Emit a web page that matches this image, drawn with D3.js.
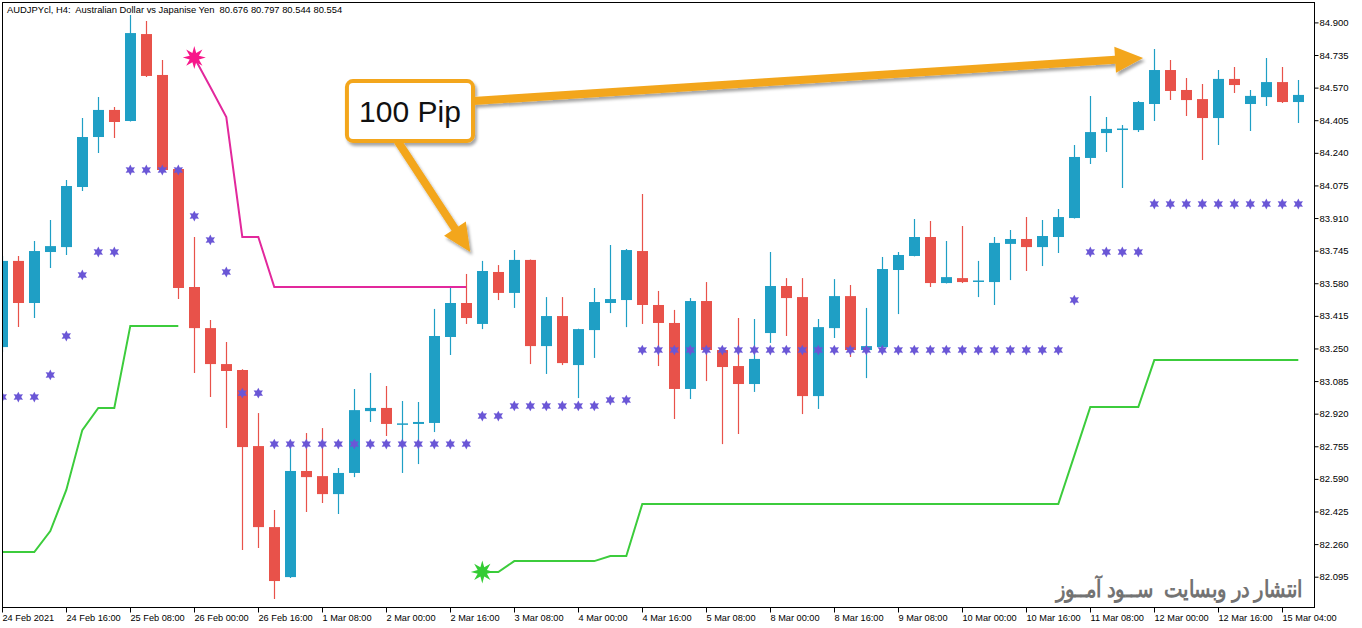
<!DOCTYPE html>
<html>
<head>
<meta charset="utf-8">
<script src="https://cdn.jsdelivr.net/npm/d3@7"></script>
<style>
  body { margin: 0; background: #fff; }
  text { font-family: "Liberation Sans", Arial, sans-serif; }
</style>
</head>
<body>
<div id="chart"></div>
<script>
// AUDJPY H4 candles (index 0 = 24 Feb 2021 00:00)
const opens = [83.257,83.693,83.480,83.738,83.763,84.067,84.320,84.457,84.401,84.841,84.634,84.158,83.561,83.353,83.171,83.141,82.756,82.346,82.093,82.630,82.604,82.513,82.620,82.933,82.949,82.866,82.868,82.873,83.308,83.480,83.374,83.637,83.531,83.698,83.262,83.414,83.166,83.343,83.480,83.495,83.743,83.470,83.379,83.045,83.490,83.242,83.161,83.070,83.328,83.566,83.510,83.009,83.353,83.515,83.242,83.257,83.647,83.718,83.814,83.581,83.606,83.589,83.586,83.779,83.804,83.763,83.814,83.910,84.214,84.340,84.358,84.355,84.487,84.659,84.558,84.512,84.416,84.614,84.487,84.522,84.598,84.497];
const highs = [83.718,83.718,83.794,83.900,84.102,84.416,84.522,84.472,84.937,84.907,84.710,84.160,83.814,83.394,83.283,83.145,82.923,82.432,82.771,82.822,82.847,82.645,83.045,83.126,83.060,82.984,82.979,83.450,83.556,83.627,83.693,83.672,83.748,83.700,83.510,83.510,83.350,83.556,83.773,83.753,84.032,83.541,83.445,83.505,83.586,83.245,83.404,83.399,83.738,83.606,83.606,83.399,83.601,83.571,83.455,83.713,83.738,83.905,83.895,83.794,83.870,83.693,83.814,83.849,83.915,83.900,83.956,84.280,84.528,84.421,84.381,84.502,84.765,84.710,84.619,84.588,84.659,84.674,84.558,84.720,84.674,84.608];
const lows = [83.232,83.358,83.404,83.657,83.723,84.047,84.239,84.315,84.398,84.624,84.148,83.500,83.126,83.004,82.847,82.230,82.240,81.982,82.088,82.422,82.468,82.412,82.599,82.878,82.807,82.620,82.665,82.827,83.217,83.374,83.348,83.495,83.455,83.171,83.121,83.166,82.999,83.202,83.429,83.358,83.374,83.161,82.893,82.994,83.085,82.766,82.817,83.030,83.278,83.313,82.918,82.944,83.303,83.207,83.100,83.255,83.424,83.716,83.561,83.579,83.581,83.510,83.470,83.596,83.642,83.667,83.733,83.908,84.183,84.244,84.062,84.345,84.401,84.507,84.426,84.204,84.280,84.543,84.350,84.477,84.492,84.391];
const closes = [83.693,83.480,83.743,83.768,84.072,84.320,84.457,84.396,84.846,84.629,84.153,83.556,83.353,83.171,83.136,82.751,82.346,82.073,82.630,82.599,82.513,82.620,82.938,82.949,82.868,82.871,82.878,83.313,83.480,83.404,83.642,83.531,83.698,83.262,83.414,83.176,83.348,83.485,83.500,83.748,83.470,83.379,83.045,83.490,83.242,83.156,83.070,83.197,83.566,83.505,83.009,83.358,83.515,83.242,83.262,83.652,83.723,83.814,83.581,83.611,83.586,83.594,83.784,83.804,83.763,83.819,83.915,84.219,84.345,84.361,84.363,84.497,84.659,84.553,84.507,84.416,84.614,84.583,84.528,84.598,84.497,84.533];

// purple star levels, one per candle
const starLevels = [83.004,83.004,83.004,83.116,83.313,83.622,83.738,83.738,84.153,84.153,84.153,84.153,83.920,83.799,83.637,83.024,83.024,
  82.766,82.766,82.766,82.766,82.766,82.766,82.766,82.766,82.766,82.766,82.766,82.766,82.766,
  82.908,82.908,82.959,82.959,82.959,82.959,82.959,82.959,82.989,82.989,
  83.242,83.242,83.242,83.242,83.242,83.242,83.242,83.242,83.242,83.242,83.242,83.242,83.242,83.242,83.242,83.242,83.242,83.242,83.242,83.242,83.242,83.242,83.242,83.242,83.242,83.242,83.242,
  83.495,83.738,83.738,83.738,83.738,
  83.981,83.981,83.981,83.981,83.981,83.981,83.981,83.981,83.981,83.981];

// magenta trailing line (starts at candle 12)
const resistStart = 12;
const resistLine = [84.722,84.573,84.421,83.814,83.814,83.561,83.561,83.561,83.561,83.561,83.561,83.561,83.561,83.561,83.561,83.561,83.561,83.561];

// green trailing lines
const supportAStart = 0;
const supportA = [82.220,82.220,82.220,82.326,82.534,82.837,82.949,82.949,83.364,83.364,83.364,83.364];
const supportBStart = 30;
const supportB = [82.119,82.119,82.174,82.174,82.174,82.174,82.174,82.174,82.200,82.200,
  82.463,82.463,82.463,82.463,82.463,82.463,82.463,82.463,82.463,82.463,82.463,82.463,82.463,82.463,82.463,82.463,82.463,82.463,82.463,82.463,82.463,82.463,82.463,82.463,82.463,82.463,82.463,
  82.708,82.954,82.954,82.954,82.954,
  83.191,83.191,83.191,83.191,83.191,83.191,83.191,83.191,83.191,83.191];

const priceTicks = [82.095,82.260,82.425,82.590,82.755,82.920,83.085,83.250,83.415,83.580,83.745,83.910,84.075,84.240,84.405,84.570,84.735,84.900];
const dateIdx = [0,4,8,12,16,20,24,28,32,36,40,44,48,52,56,60,64,68,72,76,80];
const dateLabels = ["24 Feb 2021","24 Feb 16:00","25 Feb 08:00","26 Feb 00:00","26 Feb 16:00","1 Mar 08:00","2 Mar 00:00","2 Mar 16:00","3 Mar 08:00","4 Mar 00:00","4 Mar 16:00","5 Mar 08:00","8 Mar 00:00","8 Mar 16:00","9 Mar 08:00","10 Mar 00:00","10 Mar 16:00","11 Mar 08:00","12 Mar 00:00","12 Mar 16:00","15 Mar 04:00"];

// callout, in candle index / price units
const callout = { i0: 21.54, i1: 29.42, top: 84.603, bottom: 84.300, label: "100 Pip" };
const arrows = [
  { i0: 29.42, p0: 84.502, i1: 71.3, p1: 84.720 },
  { i0: 24.7, p0: 84.300, i1: 29.25, p1: 83.738 }
];

const title = "AUDJPYcl, H4:  Australian Dollar vs Japanise Yen  80.676 80.797 80.544 80.554";
const watermark = "انتشار در وبسایت  ســود آمــوز";

const W = 1362, H = 628;
const frame = { left: 2.5, top: 2.5, right: 1314.5, bottom: 607.5 };

const svg = d3.select("#chart").append("svg").attr("width", W).attr("height", H);

const x = d3.scaleLinear().domain([0, 81]).range([2.3, 1298.3]);
const y = d3.scaleLinear().domain([82.095, 84.900]).range([576.7, 22.4]);

const defs = svg.append("defs");
defs.append("clipPath").attr("id", "plotclip").append("rect")
  .attr("x", frame.left).attr("y", frame.top)
  .attr("width", frame.right - frame.left).attr("height", frame.bottom - frame.top);
defs.append("filter").attr("id", "shadow").attr("x", "-20%").attr("y", "-20%").attr("width", "140%").attr("height", "160%")
  .append("feDropShadow").attr("dx", 2).attr("dy", 3).attr("stdDeviation", 1.8)
  .attr("flood-color", "#000").attr("flood-opacity", 0.35);

const candles = opens.map((o, i) => ({ i, o, h: highs[i], l: lows[i], c: closes[i] }));
const upCol = "#1f9fc5", downCol = "#e8524a";

const plot = svg.append("g").attr("clip-path", "url(#plotclip)");

// wicks
plot.selectAll("line.wick").data(candles).join("line")
  .attr("class", "wick")
  .attr("x1", d => Math.round(x(d.i)) + 0.5).attr("x2", d => Math.round(x(d.i)) + 0.5)
  .attr("y1", d => y(d.h)).attr("y2", d => y(d.l))
  .attr("stroke", d => d.c >= d.o ? upCol : downCol).attr("stroke-width", 1.2);

// bodies
const bodyW = 11;
plot.selectAll("rect.body").data(candles).join("rect")
  .attr("class", "body")
  .attr("x", d => Math.round(x(d.i)) + 0.5 - bodyW / 2)
  .attr("width", bodyW)
  .attr("y", d => y(Math.max(d.o, d.c)))
  .attr("height", d => Math.max(1.5, Math.abs(y(d.o) - y(d.c))))
  .attr("fill", d => d.c >= d.o ? upCol : downCol);

// trailing lines
const line = d3.line().x(d => x(d[0])).y(d => y(d[1]));
function series(start, vals) { return vals.map((v, k) => [start + k, v]); }
plot.append("path").datum(series(resistStart, resistLine))
  .attr("d", line).attr("fill", "none").attr("stroke", "#e2289c").attr("stroke-width", 2);
[series(supportAStart, supportA), series(supportBStart, supportB)].forEach(s => {
  plot.append("path").datum(s)
    .attr("d", line).attr("fill", "none").attr("stroke", "#3ccc3c").attr("stroke-width", 2);
});

// star shapes
function starPath(points, rOut, rIn) {
  const pts = [];
  for (let k = 0; k < points * 2; k++) {
    const r = k % 2 ? rIn : rOut;
    const a = Math.PI * k / points - Math.PI / 2;
    pts.push([r * Math.cos(a), r * Math.sin(a)]);
  }
  return "M" + pts.map(p => p[0].toFixed(2) + "," + p[1].toFixed(2)).join("L") + "Z";
}
const star6 = starPath(6, 5.4, 2.9);
plot.selectAll("path.lvl").data(starLevels.map((v, i) => [i, v])).join("path")
  .attr("class", "lvl")
  .attr("transform", d => `translate(${x(d[0])},${y(d[1])})`)
  .attr("d", star6).attr("fill", "#6a56d6");

const star8 = starPath(8, 11.5, 5);
plot.append("path").attr("d", star8)
  .attr("transform", `translate(${x(resistStart)},${y(resistLine[0])})`).attr("fill", "#f8168a");
plot.append("path").attr("d", star8)
  .attr("transform", `translate(${x(supportBStart)},${y(supportB[0])})`).attr("fill", "#33cc33");

// frame
svg.append("rect")
  .attr("x", frame.left).attr("y", frame.top)
  .attr("width", frame.right - frame.left).attr("height", frame.bottom - frame.top)
  .attr("fill", "none").attr("stroke", "#000").attr("stroke-width", 1);

// price axis
const yAxis = svg.append("g").attr("transform", `translate(${frame.right},0)`)
  .call(d3.axisRight(y).tickValues(priceTicks).tickFormat(d3.format(".3f")).tickSize(4).tickPadding(1));
yAxis.select(".domain").remove();
yAxis.selectAll("text").attr("font-size", 9.5).attr("fill", "#000").attr("font-family", "Liberation Sans, Arial, sans-serif");
yAxis.selectAll("line").attr("stroke", "#000");

// time axis
const xAxis = svg.append("g").attr("transform", `translate(0,${frame.bottom})`)
  .call(d3.axisBottom(x).tickValues(dateIdx).tickFormat((d, k) => dateLabels[k]).tickSize(5).tickPadding(2));
xAxis.select(".domain").remove();
xAxis.selectAll(".tick").attr("transform", d => `translate(${Math.round(x(d)) + 0.5},0)`);
xAxis.selectAll("text").attr("text-anchor", "start").attr("x", 0).attr("font-size", 9.2)
  .attr("fill", "#000").attr("font-family", "Liberation Sans, Arial, sans-serif");
xAxis.selectAll("line").attr("stroke", "#000");

// title
svg.append("text").attr("x", 7).attr("y", 13).attr("font-size", 9.4)
  .style("white-space", "pre").attr("fill", "#000").text(title);

// watermark (narrowed horizontally to the width seen in the picture)
svg.append("g").attr("transform", "translate(1303,597) scale(0.85,1)")
  .append("text").attr("x", 0).attr("y", 0).attr("text-anchor", "end")
  .attr("font-family", "DejaVu Sans, sans-serif").attr("font-weight", "bold").attr("font-size", 23)
  .style("white-space", "pre").attr("fill", "#737373").text(watermark);

// arrows
function arrowPoints(x1, y1, x2, y2, w, hl, hw) {
  const dx = x2 - x1, dy = y2 - y1, len = Math.hypot(dx, dy);
  const ux = dx / len, uy = dy / len, nx = -uy, ny = ux;
  const bx = x2 - ux * hl, by = y2 - uy * hl;
  return [
    [x1 + nx * w / 2, y1 + ny * w / 2], [bx + nx * w / 2, by + ny * w / 2], [bx + nx * hw / 2, by + ny * hw / 2],
    [x2, y2],
    [bx - nx * hw / 2, by - ny * hw / 2], [bx - nx * w / 2, by - ny * w / 2], [x1 - nx * w / 2, y1 - ny * w / 2]
  ];
}
const ann = svg.append("g").attr("filter", "url(#shadow)");
ann.selectAll("polygon").data(arrows).join("polygon")
  .attr("points", a => arrowPoints(x(a.i0), y(a.p0), x(a.i1), y(a.p1), 8, 28, 26).map(p => p.join(",")).join(" "))
  .attr("fill", "#f3a61c");

// callout box
ann.append("rect")
  .attr("x", x(callout.i0)).attr("y", y(callout.top))
  .attr("width", x(callout.i1) - x(callout.i0)).attr("height", y(callout.bottom) - y(callout.top))
  .attr("rx", 6).attr("fill", "#fff").attr("stroke", "#f3a61c").attr("stroke-width", 4);
svg.append("text")
  .attr("x", (x(callout.i0) + x(callout.i1)) / 2).attr("y", (y(callout.top) + y(callout.bottom)) / 2 + 11)
  .attr("text-anchor", "middle").attr("font-size", 30).attr("fill", "#111").text(callout.label);
</script>
</body>
</html>
